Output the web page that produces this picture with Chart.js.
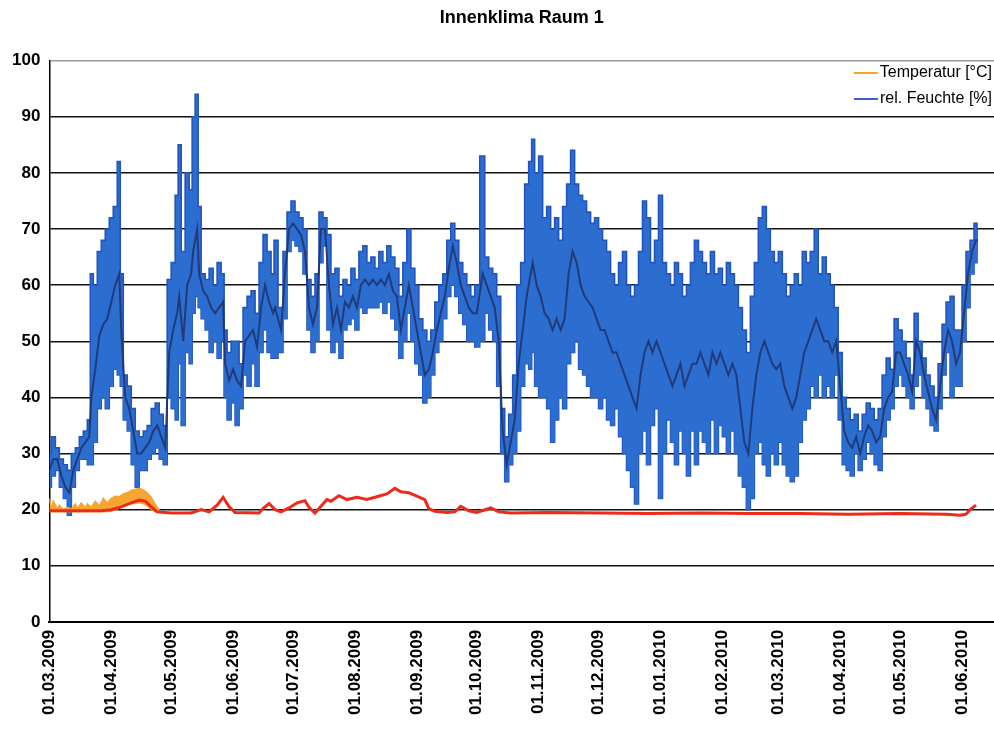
<!DOCTYPE html>
<html><head><meta charset="utf-8">
<script src="https://cdn.jsdelivr.net/npm/chart.js@4/dist/chart.umd.min.js"></script>
<style>html,body{margin:0;padding:0;background:#fff;}#wrap{width:994px;height:729px;}</style>
</head><body><div id="wrap"><canvas id="c" width="994" height="729"></canvas></div>
<script>
// ---- tick labels (x axis: day offsets from 01.03.2009) ----
const monthTickDays = [0,31,61,92,122,153,184,214,245,275,306,337,365,396,426,457];
const monthTickLabels = ["01.03.2009","01.04.2009","01.05.2009","01.06.2009","01.07.2009","01.08.2009","01.09.2009","01.10.2009","01.11.2009","01.12.2009","01.01.2010","01.02.2010","01.03.2010","01.04.2010","01.05.2010","01.06.2010"];
const yTickValues = [0,10,20,30,40,50,60,70,80,90,100];

// ---- rel. Feuchte [%]: daily envelope (high / low) and running level ----
const humDays = [0,2,4,6,8,10,12,14,16,18,20,
21,23,25,27,29,31,33,35,36,
38,40,42,44,46,48,50,52,54,56,58,
60,62,64,65,67,69,71,72,74,75,77,79,81,83,85,87,
88,90,92,94,96,98,100,102,104,106,108,110,112,
113,116,118,120,122,124,126,128,130,132,134,136,138,140,142,144,146,148,150,152,154,156,158,160,162,164,166,168,170,172,174,176,178,180,182,184,186,188,190,192,194,196,198,200,202,204,206,208,210,212,214,
217,219,221,223,225,227,229,231,233,235,237,239,241,242,244,246,248,250,252,254,256,258,260,262,264,266,268,270,272,274,276,278,280,282,284,286,288,290,292,294,296,298,
300,302,304,306,308,310,312,314,316,318,320,322,324,326,328,330,332,334,336,338,340,342,344,346,348,350,352,354,356,358,360,362,364,366,368,370,372,374,376,378,380,382,384,386,388,390,392,394,396,398,
400,402,404,406,408,410,412,414,416,418,420,422,424,426,428,430,432,434,436,438,440,442,444,446,448,450,452,454,456,458,460,462,464,465];
const humHigh = [30,33,31,29,28,27,30,31,33,34,36,
62,60,66,68,70,72,74,82,62,
44,42,38,34,33,34,35,38,39,37,35,
61,64,76,85,66,80,77,90,94,74,62,61,63,60,64,62,
52,48,50,50,46,56,58,59,55,64,69,66,62,
68,56,66,73,75,73,72,70,61,58,62,73,72,69,62,63,58,61,60,63,61,66,67,64,65,63,66,64,67,65,63,58,64,70,63,60,54,52,50,52,57,60,62,68,71,68,64,62,60,58,60,
83,65,63,62,58,38,33,37,44,60,64,78,82,86,80,83,72,74,70,72,68,74,78,84,78,76,75,73,71,72,70,68,66,62,60,64,66,60,58,60,66,75,
72,64,68,76,64,62,60,64,62,58,60,64,68,66,64,62,66,62,63,60,64,62,60,56,52,48,58,64,72,74,70,66,64,66,62,58,60,62,60,66,64,66,70,62,65,62,60,56,48,40,
38,36,37,34,37,39,38,36,38,44,47,45,54,52,50,47,44,55,50,47,44,42,40,46,53,57,58,52,52,60,66,68,71,70];
const humLow = [24,26,27,24,22,19,24,27,29,29,28,
28,32,38,40,38,42,45,44,42,
36,34,28,24,27,27,29,30,31,29,28,
40,38,36,46,35,48,46,55,58,56,54,52,48,50,47,50,
40,36,39,35,38,44,42,46,42,48,52,48,47,
47,48,54,66,68,67,66,62,52,48,50,64,67,52,48,50,47,52,53,54,52,56,55,56,56,56,57,55,57,54,52,47,50,55,50,46,44,39,40,44,48,50,54,58,60,58,55,53,50,50,49,
50,55,52,50,42,30,25,28,30,34,42,46,45,48,42,40,40,38,32,36,40,38,46,48,50,45,44,42,40,40,38,40,36,35,38,33,30,27,24,21,30,34,
28,35,38,22,30,36,32,28,34,30,26,34,28,34,32,30,36,30,35,33,30,34,30,26,24,20,22,30,32,28,26,30,28,32,28,26,25,26,32,36,38,42,40,44,40,42,40,44,36,28,
27,26,30,27,29,32,30,28,27,33,36,38,42,44,42,40,38,42,44,40,38,35,34,38,44,48,40,42,42,50,56,62,64,66];
const humMid = [27,29,29,26,24,23,27,29,31,32,33,
40,45,51,53,54,57,60,62,52,
40,38,34,30,30,31,32,34,35,33,31,
48,52,55,58,50,60,62,66,70,62,59,58,56,55,56,57,
46,43,45,43,42,50,51,52,49,56,60,57,55,
56,52,62,70,71,70,69,66,56,53,56,70,70,60,53,56,52,57,56,58,56,60,61,60,61,60,61,60,62,59,58,52,56,60,56,52,48,44,45,48,52,55,58,63,67,64,60,58,56,55,55,
62,60,58,56,50,34,28,32,36,46,52,58,62,64,60,58,55,54,52,54,52,54,62,66,64,60,58,57,56,54,52,52,50,48,48,46,44,42,40,38,44,48,
50,48,50,48,46,44,42,44,46,42,44,46,46,48,46,44,48,46,48,46,44,46,44,38,32,30,38,44,48,50,48,46,45,46,42,40,38,40,44,48,50,52,54,52,50,50,48,50,42,34,
32,31,33,30,33,35,34,32,33,38,40,41,48,48,46,44,41,50,48,44,41,38,36,42,48,52,50,46,48,55,62,66,68,68];

// ---- Temperatur [°C] ----
const tempDays = [0,6,16,26,31,36,41,45,48,51,54,61,71,76,80,84,87,90,93,105,107,110,113,116,120,124,128,130,133,135,139,141,145,149,154,159,164,169,173,176,180,184,188,190,193,199,203,206,210,214,221,225,231,250,276,300,326,350,376,400,426,449,456,459,461,464];
const tempValues = [19.8,19.8,19.8,19.8,20.0,20.5,21.2,21.7,21.5,20.5,19.6,19.4,19.4,20.0,19.6,20.8,22.2,20.5,19.5,19.4,20.2,21.1,20.0,19.6,20.3,21.2,21.6,20.4,19.4,20.2,21.8,21.5,22.5,21.8,22.2,21.8,22.3,22.8,23.8,23.2,23.0,22.4,21.8,20.2,19.7,19.5,19.6,20.6,19.8,19.5,20.3,19.6,19.4,19.5,19.4,19.3,19.4,19.3,19.3,19.2,19.3,19.2,19.0,19.2,20.0,20.8];
const tempBandDays = [0,1,2,4,5,7,9,11,13,14,16,18,19,21,23,25,27,29,31,33,35,37,39,41,43,45,47,49,51,53,55];
const tempBandHigh = [22.0,20.2,21.5,20.2,20.8,20.0,20.4,20.1,21.0,20.2,21.2,20.3,21.0,20.4,21.5,20.6,22.0,21.2,22.0,22.4,22.3,22.8,23.0,23.4,23.6,23.8,23.5,23.0,22.2,21.0,19.9];
const tempBandLow = [19.6,19.6,19.6,19.6,19.6,19.6,19.6,19.6,19.6,19.6,19.6,19.6,19.6,19.6,19.6,19.6,19.6,19.6,19.7,19.9,20.2,20.6,20.8,21.0,21.1,21.2,21.0,20.6,20.0,19.6,19.5];

const pts = (xs, ys) => xs.map((x, i) => ({x: x, y: ys[i]}));

const FONT = '"Liberation Sans", Arial, sans-serif';

const legendItems = [
  {text: 'Temperatur [°C]', color: '#f5a623', y: 73},
  {text: 'rel. Feuchte [%]', color: '#3a5fd0', y: 99}
];
const insideLegend = {
  id: 'insideLegend',
  afterDraw(chart) {
    const ctx = chart.ctx;
    ctx.save();
    ctx.font = '16px ' + FONT;
    ctx.textBaseline = 'middle';
    ctx.textAlign = 'left';
    legendItems.forEach(it => {
      const w = ctx.measureText(it.text).width;
      const tx = 992 - w;
      ctx.fillStyle = '#000';
      ctx.fillText(it.text, tx, it.y);
      ctx.strokeStyle = it.color;
      ctx.lineWidth = 2;
      ctx.beginPath();
      ctx.moveTo(tx - 26, it.y);
      ctx.lineTo(tx - 2, it.y);
      ctx.stroke();
    });
    ctx.restore();
  }
};

new Chart(document.getElementById('c'), {
  type: 'line',
  data: {
    datasets: [
      {label: 'TempLine', data: pts(tempDays, tempValues), borderColor: '#ee2a1a', borderWidth: 3, pointRadius: 0, fill: false, order: 0},
      {label: 'Temperatur [°C]', data: pts(tempBandDays, tempBandHigh), borderColor: '#f7a531', borderWidth: 1.5, backgroundColor: '#f7a531', pointRadius: 0, fill: '+1', order: 1},
      {label: 'TempBandLow', data: pts(tempBandDays, tempBandLow), borderColor: '#f7a531', borderWidth: 1, pointRadius: 0, fill: false, order: 2},
      {label: 'HumMid', data: pts(humDays, humMid), borderColor: 'rgba(28,42,95,0.75)', borderWidth: 2, pointRadius: 0, fill: false, order: 3},
      {label: 'rel. Feuchte [%]', data: pts(humDays, humHigh), borderColor: '#2254bf', borderWidth: 1.6, backgroundColor: '#2c6ecf', pointRadius: 0, fill: '+1', order: 4, stepped: 'middle'},
      {label: 'HumLow', data: pts(humDays, humLow), borderColor: '#2254bf', borderWidth: 1.6, pointRadius: 0, fill: false, order: 5, stepped: 'middle'}
    ]
  },
  options: {
    responsive: false,
    animation: false,
    devicePixelRatio: 1,
    layout: {padding: {left: 3, right: 0, top: 0, bottom: 6}},
    plugins: {
      legend: {display: false},
      tooltip: {enabled: false},
      title: {display: true, fullSize: false, text: 'Innenklima Raum 1', color: '#000', font: {family: FONT, size: 18, weight: 'bold'}, padding: {top: 7, bottom: 32}}
    },
    scales: {
      x: {
        type: 'linear', min: 0, max: 473,
        afterBuildTicks: s => { s.ticks = monthTickDays.map(v => ({value: v})); },
        ticks: {autoSkip: false, maxRotation: 90, minRotation: 90, padding: 8, color: '#000',
          font: {family: FONT, size: 17, weight: 'bold'},
          callback: (v, i) => monthTickLabels[i]},
        grid: {display: false, drawTicks: false},
        border: {display: true, color: '#000', width: 2}
      },
      y: {
        min: 0, max: 100,
        afterBuildTicks: s => { s.ticks = yTickValues.map(v => ({value: v})); },
        ticks: {padding: 9, color: '#000', font: {family: FONT, size: 17, weight: 'bold'}},
        grid: {drawTicks: false, color: c => c.tick && c.tick.value === 100 ? '#9a9a9a' : '#111', lineWidth: 1.4},
        border: {display: true, color: '#000', width: 1.5}
      }
    }
  },
  plugins: [insideLegend]
});
</script>
</body></html>
